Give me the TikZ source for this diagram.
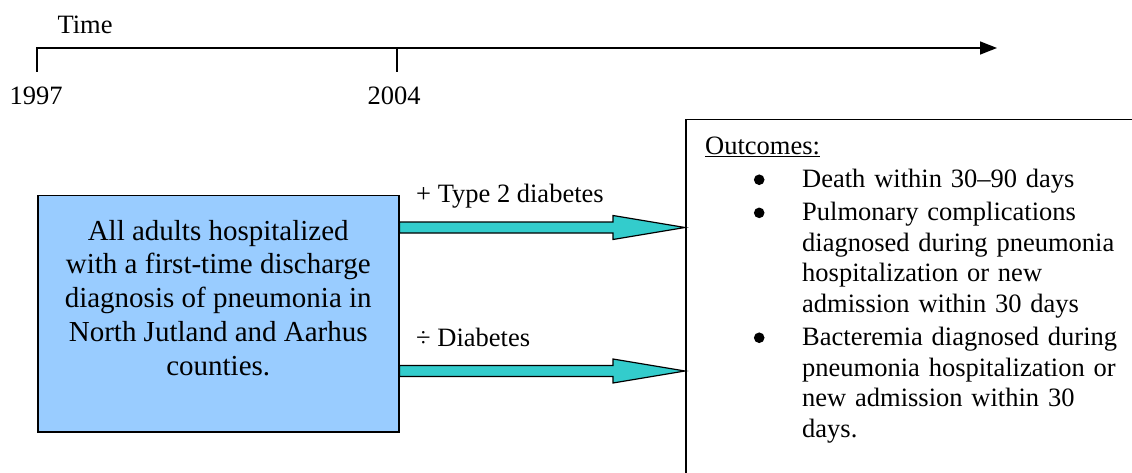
\documentclass[tikz,border=0pt]{standalone}
\usepackage{fontspec}
\setmainfont{Liberation Serif}
\usetikzlibrary{calc,arrows.meta}

\definecolor{popblue}{HTML}{99CCFF}
\definecolor{fatcyan}{HTML}{33CCCC}

\newcommand\mainsize{\fontsize{26.5}{30.6}\selectfont}
\newcommand\boxsize{\fontsize{29}{33.7}\selectfont}
% round list bullet, centred 7.7pt above the baseline
\newcommand\bigbullet{\tikz[baseline={(0,-7.7pt)}]\fill (0,0) circle (5.3pt);}
\newcommand\outitem{\par\noindent\llap{\bigbullet\hspace{37.7pt}}}

% block arrow from coordinate #1 (tail) to coordinate #2 (tip)
\newcommand\fatarrow[2]{%
  \draw[fat] ($(#1)+(0,-5.5)$) -- ($(#2)+(-72,-5.5)$) -- ($(#2)+(-72,-12)$)
    -- (#2) -- ($(#2)+(-72,12)$) -- ($(#2)+(-72,5.5)$) -- ($(#1)+(0,5.5)$) -- cycle;}

\begin{document}
\begin{tikzpicture}[x=1pt,y=-1pt,
  axis/.style={line width=1.5pt},
  lbl/.style={anchor=base, inner sep=0, font=\mainsize},
  popbox/.style={draw, line width=1.5pt, fill=popblue, minimum width=361pt,
    minimum height=236pt, inner sep=0},
  outframe/.style={draw, line width=1.5pt, minimum width=480pt,
    minimum height=400pt, inner sep=0},
  fat/.style={draw=black, line width=1.2pt, fill=fatcyan, line join=miter},
]
\useasboundingbox (0,0) rectangle (1132,473);
\clip (0,0) rectangle (1132,473);

% time axis
\coordinate (t0) at (37,48);
\coordinate (t1) at (397,48);
\coordinate (tend) at (997,48);
\coordinate (t0b) at (37,72);
\coordinate (t1b) at (397,72);
\draw[axis, -{Triangle[length=17pt,width=13pt]}] (t0b) -- (t0) -- (tend);
\draw[axis] (t1b) -- (t1);
\node[lbl] (time) at (85,33.3) {Time};
\node[lbl] (y1997) at (36,105) {1997};
\node[lbl] (y2004) at (394,105) {2004};

% study population
\node[popbox, anchor=north west] (pop) at (37,195) {};
\node[font=\boxsize, align=center, inner sep=0] (poptxt) at ($(pop.center)+(0,-16)$)
  {All adults hospitalized\\with a first-time discharge\\diagnosis of pneumonia in\\North Jutland and Aarhus\\counties.};

% outcomes frame
\node[outframe, anchor=north west] (outbox) at (685,119) {};
\node[anchor=north west, inner sep=0, text width=430pt, font=\mainsize] (outtxt) at (705,136.6) {%
  \raggedright\parskip=2.5pt
  \underline{Outcomes:}\par
  \leftskip=97pt
  \outitem Death within 30–90 days
  \outitem Pulmonary complications\newline diagnosed during pneumonia\newline hospitalization or new\newline admission within 30 days
  \outitem Bacteremia diagnosed during\newline pneumonia hospitalization or\newline new admission within 30\newline days.\par};

% exposure arrows
\coordinate (a1s) at (pop.east |- 0,227.5);
\coordinate (a1e) at (outbox.west |- 0,227.5);
\coordinate (a2s) at (pop.east |- 0,371);
\coordinate (a2e) at (outbox.west |- 0,371);
\fatarrow{a1s}{a1e}
\fatarrow{a2s}{a2e}
\node[lbl, anchor=base west] (lt2) at (416,202.3) {+ Type 2 diabetes};
\node[lbl, anchor=base west] (lnd) at (416,346) {÷ Diabetes};
\end{tikzpicture}
\end{document}
